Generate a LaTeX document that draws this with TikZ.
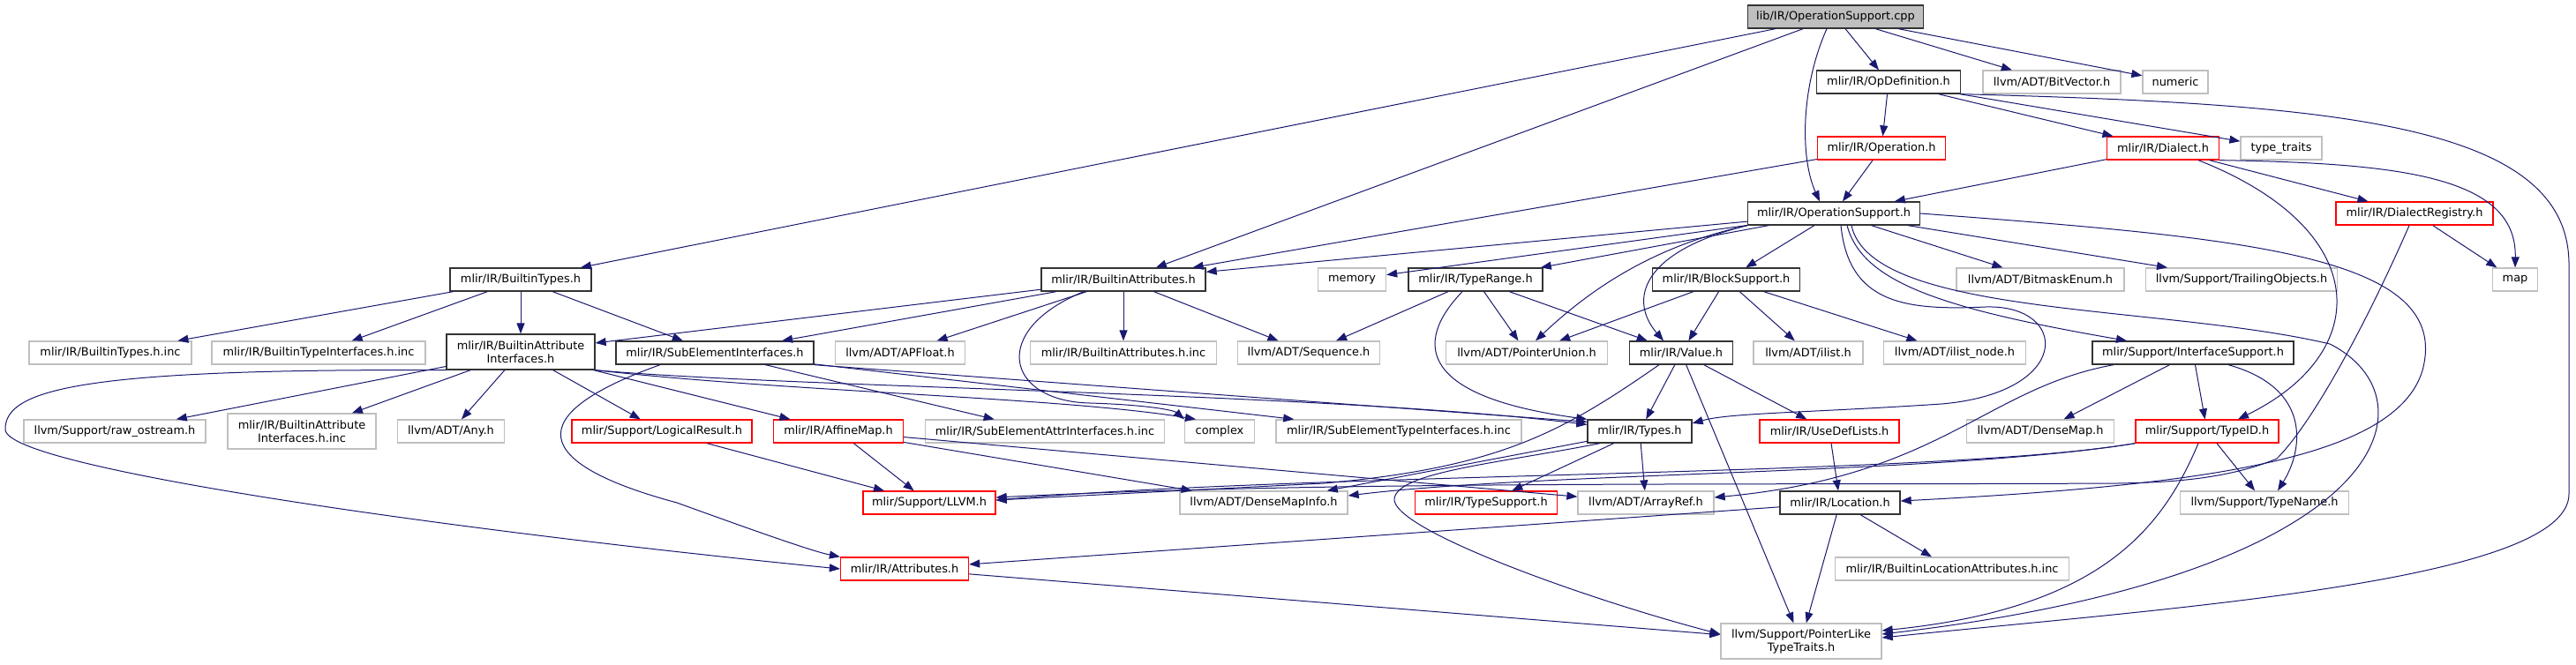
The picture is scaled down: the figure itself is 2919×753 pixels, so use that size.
\documentclass[tikz,border=0pt]{standalone}
\usepackage{fontspec}
\setmainfont{DejaVu Sans}
\usetikzlibrary{arrows.meta}
\definecolor{edgeblue}{RGB}{25,25,112}
\definecolor{boxgrey}{RGB}{191,191,191}
\begin{document}
\begin{tikzpicture}[x=1pt, y=-1pt,
  hdr/.style={draw=black!80, fill=white, line width=1.3pt, inner sep=0pt,
    minimum height=26pt, align=center, font=\fontsize{12.9pt}{15pt}\selectfont},
  dochdr/.style={hdr},
  roothdr/.style={hdr, fill=boxgrey},
  cuthdr/.style={hdr, draw=red},
  syshdr/.style={hdr, draw=boxgrey},
  twolines/.style={minimum height=40pt},
  incl/.style={draw=edgeblue, line width=1pt, -{Triangle[length=12pt, width=9pt]}}]
  \fill[white] (0,0) rectangle (2919,753);
  \useasboundingbox (0,0) rectangle (2919,753);

  % file di partenza
  \node[roothdr, minimum width=199pt] (cpp) at (2080,19) {lib/IR/OperationSupport.cpp};

  % livello 1 e 2
  \node[dochdr, minimum width=163pt] (opdef) at (2140,93) {mlir/IR/OpDefinition.h};
  \node[syshdr, minimum width=156pt] (bitvec) at (2325,93) {llvm/ADT/BitVector.h};
  \node[syshdr, minimum width=74pt] (numeric) at (2465,93) {numeric};
  \node[cuthdr, minimum width=145pt] (operation) at (2132,168) {mlir/IR/Operation.h};
  \node[cuthdr, minimum width=127pt] (dialect) at (2451,168) {mlir/IR/Dialect.h};
  \node[syshdr, minimum width=92pt] (typetraits) at (2585,168) {type\_traits};

  % livello 3 e 4
  \node[dochdr, minimum width=195pt] (opsupport) at (2078,242) {mlir/IR/OperationSupport.h};
  \node[cuthdr, minimum width=178pt] (dialreg) at (2736,242) {mlir/IR/DialectRegistry.h};
  \node[dochdr, minimum width=160pt] (btypes) at (590,317) {mlir/IR/BuiltinTypes.h};
  \node[dochdr, minimum width=186pt] (battrs) at (1273,317) {mlir/IR/BuiltinAttributes.h};
  \node[syshdr, minimum width=77pt] (memory) at (1532,317) {memory};
  \node[dochdr, minimum width=152pt] (typerange) at (1672,317) {mlir/IR/TypeRange.h};
  \node[dochdr, minimum width=167pt] (blocksupp) at (1956,317) {mlir/IR/BlockSupport.h};
  \node[syshdr, minimum width=190pt] (bitmask) at (2312,317) {llvm/ADT/BitmaskEnum.h};
  \node[syshdr, minimum width=217pt] (trailing) at (2540,317) {llvm/Support/TrailingObjects.h};
  \node[syshdr, minimum width=51pt] (map) at (2850,317) {map};

  % livello 5
  \node[syshdr, minimum width=184pt] (btypesinc) at (125,400) {mlir/IR/BuiltinTypes.h.inc};
  \node[syshdr, minimum width=242pt] (btypeiface) at (361,400) {mlir/IR/BuiltinTypeInterfaces.h.inc};
  \node[dochdr, twolines, minimum width=168pt] (battriface) at (590,399) {mlir/IR/BuiltinAttribute\\Interfaces.h};
  \node[dochdr, minimum width=224pt] (subelem) at (810,400) {mlir/IR/SubElementInterfaces.h};
  \node[syshdr, minimum width=147pt] (apfloat) at (1020,400) {llvm/ADT/APFloat.h};
  \node[syshdr, minimum width=211pt] (battrsinc) at (1273,400) {mlir/IR/BuiltinAttributes.h.inc};
  \node[syshdr, minimum width=161pt] (sequence) at (1483,400) {llvm/ADT/Sequence.h};
  \node[syshdr, minimum width=183pt] (ptrunion) at (1730,400) {llvm/ADT/PointerUnion.h};
  \node[dochdr, minimum width=117pt] (value) at (1905,400) {mlir/IR/Value.h};
  \node[syshdr, minimum width=124pt] (ilist) at (2049,400) {llvm/ADT/ilist.h};
  \node[syshdr, minimum width=161pt] (ilistnode) at (2215,400) {llvm/ADT/ilist\_node.h};
  \node[dochdr, minimum width=228pt] (ifacesupp) at (2485,400) {mlir/Support/InterfaceSupport.h};

  % livello 6
  \node[syshdr, minimum width=206pt] (rawostream) at (130,489) {llvm/Support/raw\_ostream.h};
  \node[syshdr, twolines, minimum width=168pt] (battrifaceinc) at (342,489) {mlir/IR/BuiltinAttribute\\Interfaces.h.inc};
  \node[syshdr, minimum width=121pt] (any) at (511,489) {llvm/ADT/Any.h};
  \node[cuthdr, minimum width=204pt] (logical) at (750,489) {mlir/Support/LogicalResult.h};
  \node[cuthdr, minimum width=147pt] (affine) at (950,489) {mlir/IR/AffineMap.h};
  \node[syshdr, minimum width=271pt] (subattrinc) at (1184,489) {mlir/IR/SubElementAttrInterfaces.h.inc};
  \node[syshdr, minimum width=79pt] (complex) at (1382,489) {complex};
  \node[syshdr, minimum width=278pt] (subtypeinc) at (1585,489) {mlir/IR/SubElementTypeInterfaces.h.inc};
  \node[dochdr, minimum width=118pt] (types) at (1858,489) {mlir/IR/Types.h};
  \node[cuthdr, minimum width=158pt] (usedef) at (2073,489) {mlir/IR/UseDefLists.h};
  \node[syshdr, minimum width=167pt] (densemap) at (2312,489) {llvm/ADT/DenseMap.h};
  \node[cuthdr, minimum width=162pt] (typeid) at (2501,489) {mlir/Support/TypeID.h};

  % livelli 7, 8 e 9
  \node[cuthdr, minimum width=150pt] (llvmh) at (1053,570) {mlir/Support/LLVM.h};
  \node[syshdr, minimum width=190pt] (densemapinfo) at (1432,570) {llvm/ADT/DenseMapInfo.h};
  \node[cuthdr, minimum width=161pt] (typesupport) at (1684,570) {mlir/IR/TypeSupport.h};
  \node[syshdr, minimum width=154pt] (arrayref) at (1865,570) {llvm/ADT/ArrayRef.h};
  \node[dochdr, minimum width=136pt] (location) at (2085,570) {mlir/IR/Location.h};
  \node[syshdr, minimum width=191pt] (typename) at (2566,570) {llvm/Support/TypeName.h};
  \node[cuthdr, minimum width=145pt] (attributes) at (1025,645) {mlir/IR/Attributes.h};
  \node[syshdr, minimum width=265pt] (blocattrinc) at (2212,645) {mlir/IR/BuiltinLocationAttributes.h.inc};
  \node[syshdr, twolines, minimum width=182pt] (ptrlike) at (2041,727) {llvm/Support/PointerLike\\TypeTraits.h};

  % archi dritti
  \foreach \a/\b in {cpp/btypes, cpp/battrs, cpp/opdef, cpp/bitvec, cpp/numeric,
      opdef/operation, opdef/dialect, opdef/typetraits,
      operation/opsupport, operation/battrs, dialect/opsupport, dialect/dialreg, dialreg/map,
      opsupport/battrs, opsupport/memory, opsupport/typerange, opsupport/blocksupp,
      opsupport/bitmask, opsupport/trailing,
      btypes/btypesinc, btypes/btypeiface, btypes/battriface, btypes/subelem,
      battrs/battriface, battrs/subelem, battrs/apfloat, battrs/battrsinc, battrs/sequence,
      typerange/sequence, typerange/ptrunion, typerange/value,
      blocksupp/ptrunion, blocksupp/value, blocksupp/ilist, blocksupp/ilistnode,
      battriface/rawostream, battriface/battrifaceinc, battriface/any, battriface/logical, battriface/affine,
      subelem/subattrinc, subelem/subtypeinc,
      value/types, value/usedef, value/ptrlike,
      ifacesupp/typeid, ifacesupp/densemap,
      types/typesupport, types/arrayref, types/densemapinfo,
      usedef/location, typeid/typename, logical/llvmh,
      affine/llvmh, affine/densemapinfo, affine/arrayref,
      location/attributes, location/blocattrinc, location/ptrlike, attributes/ptrlike}
    \draw[incl] (\a) -- (\b);
  \draw[incl] (subelem.south east) -- ([yshift=-3pt]types.north west);

  % archi curvi
  \draw[incl] ([xshift=-10pt]cpp.south) .. controls (2040,100) and (2040,180) .. ([xshift=-16pt]opsupport.north);
  \draw[incl] (opdef.south east) .. controls (2650,118) and (2911,140) .. (2911,300) -- (2911,560)
    .. controls (2911,660) and (2450,690) .. ([yshift=4pt]ptrlike.east);
  \draw[incl] (dialect.south east) .. controls (2720,185) and (2852,200) .. (map.north);
  \draw[incl] ([xshift=40pt]dialect.south) .. controls (2690,260) and (2690,400) .. ([xshift=35pt]typeid.north);
  \draw[incl] ([xshift=-6pt]dialreg.south) .. controls (2680,370) and (2620,480) .. (2580,520)
    .. controls (2520,545) and (2450,547) .. (2400,548) .. controls (2000,550) and (1500,545) .. ([yshift=6pt]llvmh.east);
  \draw[incl] (opsupport.east) .. controls (2550,270) and (2780,290) .. (2745,420)
    .. controls (2715,520) and (2500,550) .. ([yshift=2pt]location.east);
  \draw[incl] ([xshift=20pt]opsupport.south) .. controls (2120,360) and (2450,345) .. (2640,390)
    .. controls (2760,450) and (2720,650) .. ([yshift=8pt]ptrlike.east);
  \draw[incl] ([xshift=8pt]opsupport.south) .. controls (2095,345) and (2160,352) .. (2250,348)
    .. controls (2345,345) and (2350,445) .. (2200,458) .. controls (2050,468) and (1960,468) .. ([yshift=9pt]types.east);
  \draw[incl] ([xshift=15pt]opsupport.south) .. controls (2110,320) and (2200,350) .. ([xshift=-75pt]ifacesupp.north);
  \draw[incl] (opsupport.south west) .. controls (1870,280) and (1800,330) .. ([xshift=10pt]ptrunion.north);
  \draw[incl] (opsupport.south west) .. controls (1860,285) and (1845,340) .. ([xshift=-20pt]value.north);
  \draw[incl] ([xshift=-15pt]typerange.south) .. controls (1600,390) and (1610,450) .. (types.north west);
  \draw[incl] ([xshift=-45pt]battrs.south) .. controls (1120,375) and (1140,455) .. (1235,457)
    .. controls (1300,459) and (1330,465) .. (complex.north west);
  \draw[incl] (battriface.south east) .. controls (900,445) and (1200,450) .. ([xshift=-27pt]complex.north);
  \draw[incl] (battriface.south east) .. controls (900,440) and (1500,445) .. ([yshift=-6pt]types.north west);
  \draw[incl] (battriface.south west) .. controls (100,418) and (5,440) .. (6,487)
    .. controls (7,530) and (500,600) .. (attributes.west);
  \draw[incl] ([xshift=-62pt]subelem.south) .. controls (590,470) and (600,525) .. (767,570)
    .. controls (850,600) and (920,625) .. (attributes.north west);
  \draw[incl] ([xshift=-25pt]value.south) .. controls (1770,490) and (1700,530) .. (1500,548) -- ([yshift=3pt]llvmh.east);
  \draw[incl] ([xshift=-45pt]types.south) .. controls (1700,525) and (1585,535) .. (1580,565)
    .. controls (1575,600) and (1800,680) .. ([yshift=8pt]ptrlike.west);
  \draw[incl] (typeid.south west) .. controls (2200,540) and (1500,535) .. ([yshift=3pt]llvmh.east);
  \draw[incl] (typeid.south west) .. controls (2200,538) and (1750,535) .. ([yshift=8pt]densemapinfo.east);
  \draw[incl] ([xshift=-10pt]typeid.south) .. controls (2450,600) and (2380,690) .. ([yshift=12pt]ptrlike.east);
  \draw[incl] ([xshift=-90pt]ifacesupp.south) .. controls (2250,440) and (2200,540) .. ([yshift=6pt]arrayref.east);
  \draw[incl] ([xshift=40pt]ifacesupp.south) .. controls (2620,440) and (2610,510) .. ([xshift=15pt]typename.north);
\end{tikzpicture}
\end{document}
